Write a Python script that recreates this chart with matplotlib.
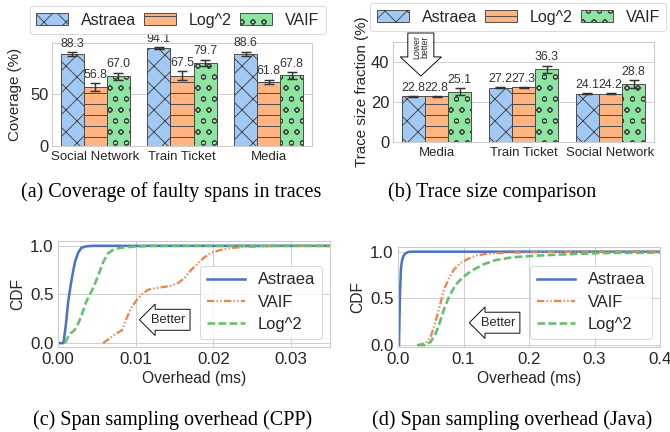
import matplotlib
matplotlib.use("Agg")
import matplotlib.pyplot as plt
import numpy as np

# rendered at a low dpi so the hatch spacing matches the reference
DPI = 66
W, H = 670, 432

methods = ["Astraea", "Log^2", "VAIF"]
bar_colors = ["#a1c9f4", "#ffb482", "#8de5a1"]
bar_hatches = ["x", "-", "o"]

# (a) coverage of faulty spans
cov_apps = ["Social Network", "Train Ticket", "Media"]
cov_astraea = [88.3, 94.1, 88.6]
cov_log2 = [56.8, 67.5, 61.8]
cov_vaif = [67.0, 79.7, 67.8]
cov_astraea_err = [1.9, 0.6, 2.2]
cov_log2_err = [3.5, 4.5, 2.1]
cov_vaif_err = [3.4, 3.2, 3.2]

# (b) trace size fraction
size_apps = ["Media", "Train Ticket", "Social Network"]
size_astraea = [22.8, 27.2, 24.1]
size_log2 = [22.8, 27.3, 24.2]
size_vaif = [25.1, 36.3, 28.8]
size_astraea_err = [0.3, 0.3, 0.3]
size_log2_err = [0.15, 0.15, 0.15]
size_vaif_err = [1.8, 1.9, 2.0]

# (c) CDF of span sampling overhead, CPP (ms)
cpp_astraea_x = [0.0002, 0.0007, 0.0010, 0.0013, 0.0016, 0.0019, 0.0022, 0.0026, 0.0030, 0.0036, 0.0045, 0.035]
cpp_astraea_y = [0.0, 0.0, 0.18, 0.42, 0.58, 0.72, 0.84, 0.93, 0.98, 0.995, 1.0, 1.0]
cpp_vaif_x = [0.0058, 0.0067, 0.0075, 0.0082, 0.0088, 0.0094, 0.0101, 0.0108, 0.0116, 0.0130, 0.0146,
              0.0155, 0.0163, 0.0171, 0.0180, 0.0188, 0.0197, 0.0210, 0.0225, 0.0245, 0.028, 0.035]
cpp_vaif_y = [0.0, 0.05, 0.10, 0.13, 0.25, 0.36, 0.44, 0.50, 0.55, 0.57, 0.59,
              0.62, 0.67, 0.75, 0.82, 0.88, 0.93, 0.96, 0.98, 0.99, 1.0, 1.0]
cpp_log2_x = [0.0009, 0.0012, 0.0016, 0.0021, 0.0026, 0.0031, 0.0036, 0.0041, 0.0046, 0.0052, 0.0058,
              0.0064, 0.0071, 0.0080, 0.0095, 0.012, 0.035]
cpp_log2_y = [0.0, 0.05, 0.10, 0.13, 0.20, 0.30, 0.42, 0.50, 0.58, 0.70, 0.83,
              0.92, 0.96, 0.98, 0.99, 1.0, 1.0]

# (d) CDF of span sampling overhead, Java (ms)
java_astraea_x = [0.0015, 0.003, 0.0045, 0.006, 0.008, 0.011, 0.015, 0.02, 0.4]
java_astraea_y = [0.0, 0.55, 0.82, 0.90, 0.95, 0.98, 0.995, 1.0, 1.0]
java_vaif_x = [0.029, 0.042, 0.050, 0.055, 0.060, 0.065, 0.070, 0.078, 0.0855, 0.096, 0.106,
               0.119, 0.134, 0.154, 0.18, 0.22, 0.3, 0.4]
java_vaif_y = [0.0, 0.02, 0.09, 0.20, 0.32, 0.45, 0.59, 0.72, 0.81, 0.88, 0.92,
               0.96, 0.975, 0.985, 0.99, 0.995, 1.0, 1.0]
java_log2_x = [0.030, 0.042, 0.050, 0.0575, 0.0625, 0.070, 0.078, 0.088, 0.098, 0.111, 0.129,
               0.149, 0.175, 0.205, 0.25, 0.31, 0.4]
java_log2_y = [0.0, 0.0, 0.035, 0.125, 0.215, 0.38, 0.52, 0.645, 0.72, 0.79, 0.86,
               0.91, 0.94, 0.955, 0.97, 0.985, 0.99]

captions = [
    "(a) Coverage of faulty spans in traces",
    "(b) Trace size comparison",
    "(c) Span sampling overhead (CPP)",
    "(d) Span sampling overhead (Java)",
]

plt.rcParams.update({
    "font.family": "Liberation Sans",
    "text.color": "#262626",
    "axes.edgecolor": "#cccccc",
    "axes.linewidth": 1.2,
    "axes.labelcolor": "#262626",
    "grid.color": "#cccccc",
    "grid.linewidth": 1.0,
    "xtick.color": "#262626",
    "ytick.color": "#262626",
    "xtick.major.size": 0,
    "ytick.major.size": 0,
    "legend.edgecolor": "#cccccc",
})


def px_axes(fig, left, right, top, bottom):
    return fig.add_axes([left / W, 1 - bottom / H, (right - left) / W, (bottom - top) / H])


def grouped_bars(ax, apps, series, errs):
    x = np.arange(len(apps))
    width = 0.8 / len(series)
    for i, (vals, err) in enumerate(zip(series, errs)):
        bars = ax.bar(x + (i - 1) * width, vals, width, yerr=err,
                      color=bar_colors[i], edgecolor="#444444", linewidth=1.0,
                      hatch=bar_hatches[i], label=methods[i],
                      error_kw=dict(ecolor="#333333", elinewidth=1.6, capsize=5, capthick=1.6))
        ax.bar_label(bars, fmt="%.1f", padding=2.5, fontsize=13.5, color="#333333")
    ax.set_xticks(x)
    ax.set_xticklabels(apps, fontsize=14.5)
    ax.set_xlim(-0.5, len(apps) - 0.5)
    ax.tick_params(axis="y", labelsize=18, pad=4)
    ax.tick_params(axis="x", pad=5)
    ax.grid(axis="y")
    ax.set_axisbelow(True)


def bar_legend(ax, anchor):
    ax.legend(loc="lower center", bbox_to_anchor=anchor, ncol=3, fontsize=17.5,
              columnspacing=0.5, handlelength=2.0, handletextpad=0.8, frameon=True)


def cdf_axes(ax, curves, xlim, xticks, better_xy):
    styles = [
        dict(color="#4a74c8", lw=2.8, ls="-"),
        dict(color="#ec854c", lw=2.5, ls=(0, (3.2, 1.0, 0.6, 1.0, 0.6, 1.0))),
        dict(color="#62c168", lw=2.8, ls=(0, (3.0, 1.3))),
    ]
    for (xs, ys, label), st in zip(curves, styles):
        ax.plot(xs, ys, label=label, **st)
    ax.set_xlim(*xlim)
    ax.set_xticks(xticks)
    ax.set_yticks([0.0, 0.5, 1.0])
    ax.grid(True)
    ax.tick_params(labelsize=18.5, pad=5)
    ax.set_xlabel("Overhead (ms)", fontsize=17, labelpad=5)
    ax.set_ylabel("CDF", fontsize=17, labelpad=5)
    ax.legend(loc="lower right", fontsize=18, handlelength=2.3, labelspacing=0.45,
              frameon=True, borderaxespad=0.5)
    ax.text(better_xy[0], better_xy[1], "Better", ha="center", va="center", fontsize=14,
            bbox=dict(boxstyle="larrow,pad=0.35", fc="white", ec="black", lw=1.0))


fig = plt.figure(figsize=(W / DPI, H / DPI), dpi=DPI)

# (a)
ax_a = px_axes(fig, 52, 312, 43, 146)
grouped_bars(ax_a, cov_apps, [cov_astraea, cov_log2, cov_vaif],
             [cov_astraea_err, cov_log2_err, cov_vaif_err])
ax_a.set_ylim(0, 99)
ax_a.set_yticks([0, 50])
ax_a.set_ylabel("Coverage (%)", fontsize=16.5, labelpad=9)
bar_legend(ax_a, (0.483, 1.01))

# (b)
ax_b = px_axes(fig, 393, 654, 42, 142)
grouped_bars(ax_b, size_apps, [size_astraea, size_log2, size_vaif],
             [size_astraea_err, size_log2_err, size_vaif_err])
ax_b.set_ylim(0, 50)
ax_b.set_yticks([0, 20, 40])
ax_b.set_ylabel("Trace size fraction (%)", fontsize=16.5, labelpad=2)
bar_legend(ax_b, (0.48, 1.03))
# "Lower better" down arrow, drawn as a hollow arrow with the text on top
ax_b.annotate("", xy=(-0.18, 33), xytext=(-0.18, 54.5), annotation_clip=False,
              arrowprops=dict(arrowstyle="simple,head_length=1.04,head_width=2.24,tail_width=1.42",
                              mutation_scale=20, fc="white", ec="black", lw=1.0,
                              shrinkA=0, shrinkB=0), zorder=5)
ax_b.text(-0.18, 47.5, "Lower\nbetter", rotation=90, ha="center", va="center", fontsize=9.5,
          linespacing=0.85, clip_on=False, zorder=6)

# (c)
ax_c = px_axes(fig, 58, 330, 241, 347)
cdf_axes(ax_c, [(cpp_astraea_x, cpp_astraea_y, "Astraea"),
                (cpp_vaif_x, cpp_vaif_y, "VAIF"),
                (cpp_log2_x, cpp_log2_y, "Log^2")],
         (0, 0.035), [0.0, 0.01, 0.02, 0.03], (0.0142, 0.24))
ax_c.set_xticklabels(["0.00", "0.01", "0.02", "0.03"])
ax_c.set_ylim(-0.04, 1.05)

# (d)
ax_d = px_axes(fig, 398, 660, 247, 347)
cdf_axes(ax_d, [(java_astraea_x, java_astraea_y, "Astraea"),
                (java_vaif_x, java_vaif_y, "VAIF"),
                (java_log2_x, java_log2_y, "Log^2")],
         (0, 0.4), [0.0, 0.1, 0.2, 0.3, 0.4], (0.153, 0.24))
ax_d.set_ylim(-0.02, 1.05)

# captions under each panel
for text, (cx, cy) in zip(captions, [(171, 192), (492, 192), (173, 420), (512, 420)]):
    fig.text(cx / W, 1 - cy / H, text, ha="center", va="center",
             family="Liberation Serif", fontsize=22, color="black")

fig.savefig("out.png", dpi=DPI)
